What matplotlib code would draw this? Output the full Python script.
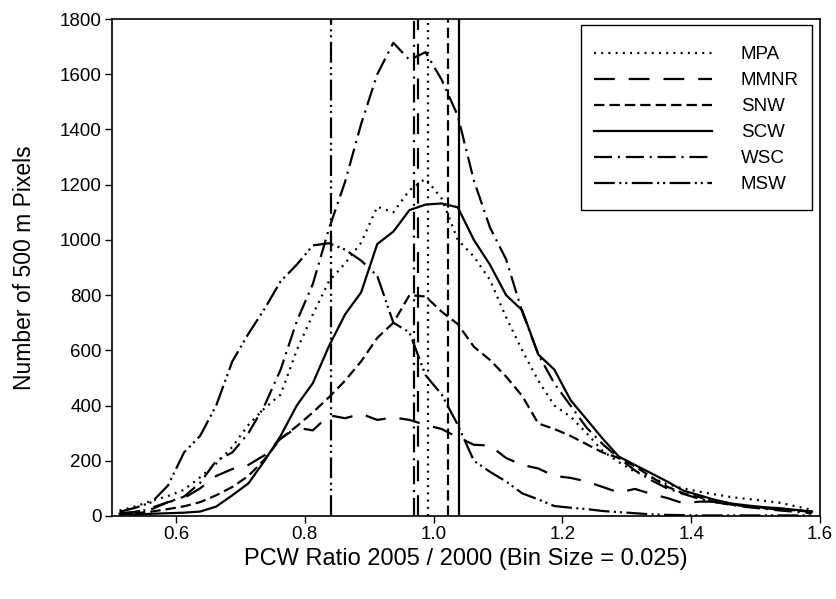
import numpy as np
import matplotlib
matplotlib.use("Agg")
import matplotlib.pyplot as plt

# bin centres of the PCW ratio histogram (bin size 0.025)
ratio_bins = [0.5125, 0.5375, 0.5625, 0.5875, 0.6125, 0.6375, 0.6625, 0.6875, 0.7125, 0.7375,
              0.7625, 0.7875, 0.8125, 0.8375, 0.8625, 0.8875, 0.9125, 0.9375, 0.9625, 0.9875,
              1.0125, 1.0375, 1.0625, 1.0875, 1.1125, 1.1375, 1.1625, 1.1875, 1.2125, 1.2375,
              1.2625, 1.2875, 1.3125, 1.3375, 1.3625, 1.3875, 1.4125, 1.4375, 1.4625, 1.4875,
              1.5125, 1.5375, 1.5625, 1.5875]

mpa = [20, 35, 55, 72, 95, 140, 190, 250, 330, 390,
       440, 600, 730, 850, 915, 990, 1120, 1100, 1180, 1222,
       1150, 1000, 940, 855, 720, 600, 490, 400, 360, 300,
       235, 195, 160, 140, 115, 100, 88, 78, 68, 62,
       55, 48, 35, 22]
mmnr = [5, 15, 30, 50, 65, 100, 145, 170, 185, 220,
        280, 320, 310, 365, 354, 370, 348, 357, 348, 330,
        315, 285, 258, 255, 210, 185, 172, 145, 138, 125,
        105, 85, 98, 80, 65, 46, 52, 52, 42, 35,
        28, 24, 20, 16]
snw = [5, 10, 16, 25, 35, 50, 75, 105, 145, 205,
       280, 325, 375, 430, 490, 560, 645, 700, 800, 795,
       740, 695, 613, 565, 505, 435, 335, 315, 290, 260,
       230, 210, 180, 142, 106, 82, 68, 50, 42, 35,
       30, 25, 20, 15]
scw = [8, 5, 8, 10, 12, 16, 34, 75, 118, 200,
       290, 400, 481, 615, 730, 810, 985, 1030, 1108, 1128,
       1132, 1118, 1000, 910, 800, 745, 585, 530, 420, 350,
       280, 215, 185, 155, 125, 92, 75, 58, 45, 38,
       32, 28, 22, 16]
wsc = [10, 15, 25, 50, 70, 120, 200, 230, 300, 400,
       530, 705, 840, 1040, 1210, 1420, 1600, 1714, 1652, 1680,
       1580, 1450, 1215, 1045, 930, 740, 585, 480, 400, 320,
       260, 210, 165, 130, 100, 80, 62, 50, 40, 32,
       26, 20, 15, 10]
msw = [15, 30, 50, 110, 230, 290, 400, 560, 660, 750,
       850, 910, 980, 988, 965, 925, 870, 700, 665, 510,
       440, 330, 200, 160, 125, 82, 60, 36, 30, 25,
       18, 14, 10, 6, 4, 3, 2, 2, 2, 2,
       2, 2, 2, 2]

# mean ratio of each area, drawn as vertical lines
names = ["MPA", "MMNR", "SNW", "SCW", "WSC", "MSW"]
means = [0.992, 0.975, 1.023, 1.040, 0.969, 0.840]

styles = {
    "MPA": (0, (1.4, 3.8)),
    "MMNR": (0, (15, 10)),
    "SNW": (0, (7.5, 3.6)),
    "SCW": "-",
    "WSC": (0, (13, 4.2, 1.5, 4.2)),
    "MSW": (0, (15, 3.2, 1.5, 2.8, 1.5, 3.2)),
}

plt.rcParams['font.family'] = ['Liberation Sans', 'DejaVu Sans']
plt.rcParams['lines.scale_dashes'] = False

fig = plt.figure(figsize=(8.36, 5.99), dpi=100)
ax = fig.add_axes([0.1334, 0.1386, 0.8476, 0.8296])

series = [mpa, mmnr, snw, scw, wsc, msw]
for name, vals, m in zip(names, series, means):
    ax.plot(ratio_bins, vals, color="black", lw=1.6, linestyle=styles[name], label=name)
    ax.axvline(m, color="black", lw=1.6, linestyle=styles[name])

ax.set_xlim(0.5, 1.6)
ax.set_ylim(0, 1800)
ax.set_xticks(np.arange(0.6, 1.61, 0.2))
ax.set_yticks(np.arange(0, 1801, 200))
ax.xaxis.set_major_formatter(plt.FormatStrFormatter('%.1f'))
ax.tick_params(direction='out', length=5, width=1, labelsize=13.5, pad=2)
for s in ax.spines.values():
    s.set_linewidth(1.2)

ax.set_xlabel("PCW Ratio 2005 / 2000 (Bin Size = 0.025)", fontsize=17, labelpad=4)
ax.set_ylabel("Number of 500 m Pixels", fontsize=16.5, labelpad=17)

leg = ax.legend(loc='upper left', bbox_to_anchor=(581 / 836, 1 - 25 / 599),
                bbox_transform=fig.transFigure, borderaxespad=0,
                fontsize=13.5, handlelength=6.3, handletextpad=1.55,
                handleheight=2.08, labelspacing=-0.21, borderpad=0.68,
                fancybox=False, framealpha=1)
leg.get_frame().set_edgecolor("black")
leg.get_frame().set_linewidth(1.0)
# sit the sample lines level with the label text
for ln in leg.get_lines():
    ln.set_ydata(np.asarray(ln.get_ydata()) - 3.5)

fig.savefig("out.png", dpi=100)
